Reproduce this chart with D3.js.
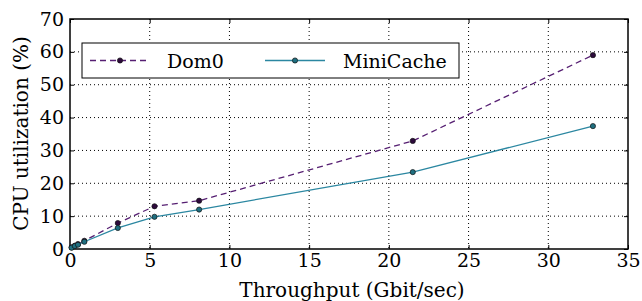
<!DOCTYPE html>
<html>
<head>
<meta charset="utf-8">
<script src="https://cdn.jsdelivr.net/npm/d3@7"></script>
<style>
  body { margin: 0; background: #fff; }
  svg { display: block; }
</style>
</head>
<body>
<svg id="chart" width="642" height="301"></svg>
<script>
// throughput (Gbit/sec)
const throughput = [0.1, 0.3, 0.5, 0.9, 3.0, 5.3, 8.1, 21.5, 32.8];
const dom0 = [0.5, 1.0, 1.5, 2.5, 7.9, 13.0, 14.7, 32.9, 59.0];
const minicache = [0.4, 0.9, 1.3, 2.2, 6.4, 9.8, 12.0, 23.4, 37.4];
const xTicks = [0, 5, 10, 15, 20, 25, 30, 35];
const yTicks = [0, 10, 20, 30, 40, 50, 60, 70];

const FONT = "DejaVu Serif";
const svg = d3.select("#chart");
const margin = { top: 19, right: 14, bottom: 52, left: 70 };
const width = 642, height = 301;
const innerWidth = width - margin.left - margin.right;
const innerHeight = height - margin.top - margin.bottom;
const fs = 19;

const g = svg.append("g").attr("transform", `translate(${margin.left},${margin.top})`);

const x = d3.scaleLinear().domain([0, 35]).range([0, innerWidth]);
const y = d3.scaleLinear().domain([0, 70]).range([innerHeight, 0]);

// grid (dotted)
g.append("g").selectAll("line").data(xTicks.slice(1, -1)).enter().append("line")
    .attr("x1", d => x(d)).attr("x2", d => x(d))
    .attr("y1", 0).attr("y2", innerHeight)
    .attr("stroke", "#000").attr("stroke-width", 1).attr("stroke-dasharray", "1,3");
g.append("g").selectAll("line").data(yTicks.slice(1, -1)).enter().append("line")
    .attr("y1", d => y(d)).attr("y2", d => y(d))
    .attr("x1", 0).attr("x2", innerWidth)
    .attr("stroke", "#000").attr("stroke-width", 1).attr("stroke-dasharray", "1,3");

// axes, ticks pointing inwards like matplotlib classic
const xAxis = g.append("g").attr("transform", `translate(0,${innerHeight})`)
    .call(d3.axisBottom(x).tickValues(xTicks).tickSize(-4).tickPadding(5).tickSizeOuter(0));
const yAxis = g.append("g")
    .call(d3.axisLeft(y).tickValues(yTicks).tickSize(-4).tickPadding(6).tickSizeOuter(0));
g.append("g").call(d3.axisTop(x).tickValues(xTicks).tickSize(-4).tickFormat("").tickSizeOuter(0));
g.append("g").attr("transform", `translate(${innerWidth},0)`)
    .call(d3.axisRight(y).tickValues(yTicks).tickSize(-4).tickFormat("").tickSizeOuter(0));

[xAxis, yAxis].forEach(a => a.selectAll("text")
    .style("font-family", FONT).style("font-size", fs + "px").attr("fill", "#000"));
g.selectAll(".domain").remove();
g.selectAll(".tick line").attr("stroke", "#000");

g.append("rect").attr("width", innerWidth).attr("height", innerHeight)
    .attr("fill", "none").attr("stroke", "#000").attr("stroke-width", 1.5);

// series
const series = [
    { name: "Dom0", values: dom0, color: "#561f72", marker: "#2d0a3c", dash: "6,4" },
    { name: "MiniCache", values: minicache, color: "#2b87a1", marker: "#1f6f80", dash: null }
];

const line = d3.line().x(d => x(d[0])).y(d => y(d[1]));

series.forEach(s => {
    const pts = throughput.map((t, i) => [t, s.values[i]]);
    g.append("path").datum(pts)
        .attr("fill", "none").attr("stroke", s.color).attr("stroke-width", 1.3)
        .attr("stroke-dasharray", s.dash).attr("d", line);
    g.selectAll(null).data(pts).enter().append("circle")
        .attr("cx", d => x(d[0])).attr("cy", d => y(d[1])).attr("r", 2.6)
        .attr("fill", s.marker).attr("stroke", "#111").attr("stroke-width", 0.7);
});

// legend
const lg = svg.append("g").attr("transform", "translate(82,43)");
lg.append("rect").attr("width", 377).attr("height", 35)
    .attr("fill", "#fff").attr("stroke", "#000").attr("stroke-width", 1);
const items = [{ s: series[0], x0: 8, tx: 85 }, { s: series[1], x0: 183, tx: 261 }];
items.forEach(it => {
    lg.append("line").attr("x1", it.x0).attr("x2", it.x0 + 60).attr("y1", 17.5).attr("y2", 17.5)
        .attr("stroke", it.s.color).attr("stroke-width", 1.3).attr("stroke-dasharray", it.s.dash);
    lg.append("circle").attr("cx", it.x0 + 30).attr("cy", 17.5).attr("r", 2.6)
        .attr("fill", it.s.marker).attr("stroke", "#111").attr("stroke-width", 0.7);
    lg.append("text").attr("x", it.tx).attr("y", 24.5)
        .style("font-family", FONT).style("font-size", fs + "px").attr("fill", "#000").text(it.s.name);
});

// axis labels
svg.append("text").attr("x", 352).attr("y", 296.5)
    .attr("text-anchor", "middle").style("font-family", FONT).style("font-size", "20px")
    .text("Throughput (Gbit/sec)");
svg.append("text").attr("transform", "translate(28,133.5) rotate(-90)")
    .attr("text-anchor", "middle").style("font-family", FONT).style("font-size", "20px")
    .text("CPU utilization (%)");
</script>
</body>
</html>
